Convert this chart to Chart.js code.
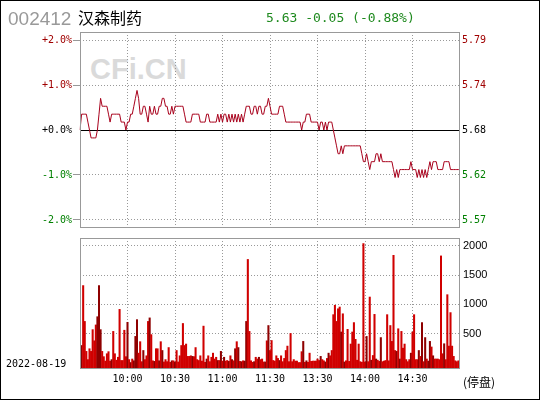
<!DOCTYPE html>
<html>
<head>
<meta charset="utf-8">
<script src="https://cdn.jsdelivr.net/npm/chart.js@4.4.0/dist/chart.umd.min.js"></script>
<style>
    html, body { margin: 0; padding: 0; background: #fff; }
    #wrap { position: relative; width: 540px; height: 400px; overflow: hidden; background: #fff; }
    #wrap canvas { position: absolute; left: 0; top: 0; }
    .txt { position: absolute; white-space: nowrap; line-height: 1; }
    #mark { left: 90px; top: 53px; font: bold 29px "Liberation Sans", Arial, sans-serif; color: #dadada; }
    #code { left: 8px; top: 8px; font: 19px "Liberation Sans", Arial, sans-serif; color: #999; }
    #name { left: 78px; top: 5px; font: 16px "Noto Sans CJK SC", sans-serif; color: #000; }
    #quote { left: 266px; top: 10px; font: 13px "DejaVu Sans Mono", monospace; color: #1f8a1f; }
    #date { left: 6px; top: 358px; font: 10px "DejaVu Sans Mono", monospace; color: #000; }
    #halt { left: 463px; top: 373px; font: 12px "Noto Sans CJK SC", sans-serif; color: #000; }
    #frame { position: absolute; left: 0; top: 0; width: 540px; height: 400px; box-sizing: border-box; border: 1px solid #000; pointer-events: none; }
</style>
</head>
<body>
<div id="wrap">
    <div class="txt" id="mark">CFi.CN</div>
    <canvas id="priceChart" width="540" height="400"></canvas>
    <canvas id="volChart" width="540" height="400"></canvas>
    <div class="txt" id="code">002412</div>
    <div class="txt" id="name">汉森制药</div>
    <div class="txt" id="quote">5.63 -0.05 (-0.88%)</div>
    <div class="txt" id="date">2022-08-19</div>
    <div class="txt" id="halt">(停盘)</div>
    <div id="frame"></div>
</div>
<script>
//! data
const prevClose = 5.68;
const pctLevels = [-2, -1, 0, 1, 2];
const pctLabels = ['-2.0%', '-1.0%', '+0.0%', '+1.0%', '+2.0%'];
const priceLabels = ['5.57', '5.62', '5.68', '5.74', '5.79'];
const volTicks = [500, 1000, 1500, 2000];
const volLabels = ['500', '1000', '1500', '2000'];
const timeTicks = ['10:00', '10:30', '11:00', '11:30', '13:30', '14:00', '14:30'];

const prices = [
    5.68, 5.70, 5.70, 5.70, 5.70, 5.69, 5.68, 5.67, 5.67, 5.67, 5.67, 5.68, 5.70, 5.72, 5.71, 5.71, 5.71, 5.71, 5.70, 5.69,
    5.70, 5.70, 5.70, 5.70, 5.70, 5.70, 5.69, 5.69, 5.69, 5.68, 5.69, 5.69, 5.70, 5.70, 5.71, 5.72, 5.73, 5.72, 5.70, 5.70,
    5.71, 5.71, 5.70, 5.69, 5.71, 5.70, 5.70, 5.71, 5.70, 5.70, 5.71, 5.71, 5.72, 5.72, 5.71, 5.71, 5.70, 5.70, 5.71, 5.70,
    5.71, 5.71, 5.71, 5.71, 5.71, 5.71, 5.70, 5.69, 5.69, 5.69, 5.69, 5.70, 5.70, 5.70, 5.70, 5.70, 5.69, 5.69, 5.69, 5.69,
    5.70, 5.70, 5.69, 5.69, 5.69, 5.69, 5.69, 5.70, 5.69, 5.70, 5.69, 5.70, 5.70, 5.69, 5.70, 5.69, 5.70, 5.69, 5.70, 5.69,
    5.70, 5.69, 5.70, 5.69, 5.70, 5.71, 5.71, 5.71, 5.70, 5.70, 5.71, 5.71, 5.70, 5.71, 5.71, 5.70, 5.70, 5.71, 5.71, 5.72,
    5.71, 5.70, 5.70, 5.70, 5.70, 5.70, 5.71, 5.71, 5.71, 5.70, 5.69, 5.69, 5.69, 5.69, 5.69, 5.69, 5.69, 5.69, 5.69, 5.69,
    5.68, 5.69, 5.69, 5.70, 5.70, 5.70, 5.69, 5.69, 5.69, 5.69, 5.69, 5.68, 5.69, 5.69, 5.68, 5.69, 5.68, 5.69, 5.69, 5.69,
    5.68, 5.67, 5.66, 5.65, 5.65, 5.66, 5.65, 5.66, 5.66, 5.66, 5.66, 5.66, 5.66, 5.66, 5.66, 5.66, 5.66, 5.66, 5.65, 5.64,
    5.64, 5.65, 5.64, 5.63, 5.64, 5.64, 5.64, 5.65, 5.65, 5.64, 5.65, 5.64, 5.64, 5.64, 5.64, 5.64, 5.64, 5.64, 5.63, 5.62,
    5.63, 5.62, 5.63, 5.63, 5.63, 5.63, 5.63, 5.63, 5.63, 5.64, 5.63, 5.63, 5.63, 5.62, 5.63, 5.62, 5.63, 5.62, 5.63, 5.62,
    5.63, 5.64, 5.63, 5.64, 5.64, 5.64, 5.63, 5.63, 5.63, 5.63, 5.64, 5.64, 5.64, 5.64, 5.63, 5.63, 5.63, 5.63, 5.63, 5.63,
    5.63
];

const volumes = [
    40, 300, 1320, 710, 200, 60, 245, 200, 570, 380, 650, 790, 1320, 570, 200, 110, 35, 160, 195, 35,
    60, 540, 160, 50, 100, 915, 45, 45, 560, 110, 695, 60, 10, 70, 40, 455, 740, 170, 365, 25,
    215, 60, 125, 710, 770, 485, 40, 30, 245, 245, 40, 365, 215, 20, 60, 25, 265, 15, 40, 40,
    20, 215, 20, 125, 300, 675, 300, 325, 115, 115, 125, 115, 110, 265, 60, 45, 125, 35, 630, 15,
    70, 125, 25, 100, 170, 70, 100, 45, 45, 200, 35, 100, 35, 45, 30, 125, 60, 40, 245, 365,
    265, 30, 25, 40, 35, 710, 1765, 540, 40, 15, 25, 100, 70, 100, 60, 70, 20, 20, 380, 640,
    215, 385, 45, 35, 125, 80, 45, 125, 25, 80, 215, 290, 25, 505, 25, 60, 35, 35, 10, 10,
    195, 370, 15, 40, 15, 170, 30, 35, 35, 35, 70, 45, 115, 60, 40, 20, 80, 170, 125, 215,
    825, 985, 710, 925, 955, 530, 840, 20, 40, 575, 30, 325, 530, 690, 405, 50, 325, 25, 15, 2035,
    20, 455, 25, 1125, 50, 130, 830, 70, 50, 30, 435, 25, 35, 45, 825, 40, 640, 370, 1835, 215,
    200, 585, 70, 540, 255, 325, 60, 25, 60, 170, 530, 825, 60, 60, 215, 115, 690, 25, 435, 70,
    35, 370, 275, 125, 70, 70, 70, 60, 1825, 160, 330, 60, 1165, 290, 860, 290, 115, 40, 25, 40,
    330
];

//! minute labels 9:30-11:30, 13:01-15:00
const times = [];
for (let i = 0; i <= 240; i++) {
    const m = i <= 120 ? 9 * 60 + 30 + i : 13 * 60 + (i - 120);
    times.push(Math.floor(m / 60) + ':' + String(m % 60).padStart(2, '0'));
}

const span = 0.0218;
const levelColors = ['#008000', '#008000', '#000000', '#a00000', '#a00000'];
const volColors = prices.map((p, i) => (i > 0 && p > prices[i - 1]) ? '#8e0000' : '#d00000');

const gridColorX = (c) => timeTicks.includes(times[c.index]) ? '#999' : 'rgba(0,0,0,0)';
const fixWidth = (s) => { s.width = 80; };
const monoFont = { family: '"DejaVu Sans Mono", monospace', size: 10 };

//! plugins
const frame = {
    id: 'frame',
    afterDraw(chart) {
        const { ctx, chartArea: a } = chart;
        ctx.save();
        ctx.strokeStyle = '#999';
        ctx.lineWidth = 1;
        ctx.strokeRect(a.left + 0.5, a.top + 0.5, a.width - 1, a.height - 1);
        ctx.restore();
    }
};

const zeroLine = {
    id: 'zeroLine',
    beforeDatasetsDraw(chart) {
        const { ctx, chartArea: a, scales } = chart;
        const py = Math.round(scales.y.getPixelForValue(prevClose)) + 0.5;
        ctx.save();
        ctx.strokeStyle = '#000';
        ctx.lineWidth = 1;
        ctx.beginPath();
        ctx.moveTo(a.left, py);
        ctx.lineTo(a.right, py);
        ctx.stroke();
        ctx.restore();
    }
};

//! price chart
new Chart(document.getElementById('priceChart'), {
    type: 'line',
    data: {
        labels: times,
        datasets: [{
            data: prices,
            borderColor: '#a8001c',
            borderWidth: 1,
            pointRadius: 0,
            tension: 0,
            fill: false,
            yAxisID: 'y',
        }]
    },
    options: {
        responsive: false,
        animation: false,
        events: [],
        layout: { padding: { top: 32, bottom: 172, left: 0, right: 0 } },
        plugins: { legend: { display: false }, tooltip: { enabled: false } },
        scales: {
            x: {
                type: 'category',
                offset: false,
                grid: { color: gridColorX, drawTicks: false, offset: false },
                border: { display: false, dash: [1, 2] },
                ticks: { display: false, autoSkip: false, maxRotation: 0 },
                afterFit: (s) => { s.height = 0; },
            },
            y: {
                position: 'left',
                min: prevClose * (1 - span),
                max: prevClose * (1 + span),
                afterBuildTicks: (s) => { s.ticks = pctLevels.map(p => ({ value: prevClose * (1 + p / 100) })); },
                afterFit: fixWidth,
                grid: { color: (c) => c.index === 2 ? 'rgba(0,0,0,0)' : '#999', tickLength: 7 },
                border: { display: false, dash: [1, 2] },
                ticks: {
                    padding: 1,
                    font: monoFont,
                    color: (c) => levelColors[c.index],
                    callback: (v, i) => pctLabels[i],
                },
            },
            y2: {
                position: 'right',
                min: prevClose * (1 - span),
                max: prevClose * (1 + span),
                afterBuildTicks: (s) => { s.ticks = pctLevels.map(p => ({ value: prevClose * (1 + p / 100) })); },
                afterFit: fixWidth,
                grid: { display: false, drawTicks: false },
                border: { display: false },
                ticks: {
                    padding: 2,
                    font: monoFont,
                    color: (c) => levelColors[c.index],
                    callback: (v, i) => priceLabels[i],
                },
            },
        }
    },
    plugins: [zeroLine, frame]
});

//! volume chart
new Chart(document.getElementById('volChart'), {
    type: 'bar',
    data: {
        labels: times,
        datasets: [{
            data: volumes,
            backgroundColor: volColors,
            barThickness: 1.4,
            borderWidth: 0,
            base: -100,
            yAxisID: 'y',
        }]
    },
    options: {
        responsive: false,
        animation: false,
        events: [],
        layout: { padding: { top: 238, bottom: 0, left: 0, right: 0 } },
        plugins: { legend: { display: false }, tooltip: { enabled: false } },
        scales: {
            x: {
                type: 'category',
                offset: false,
                grid: { color: gridColorX, drawTicks: false, offset: false },
                border: { display: false, dash: [1, 2] },
                ticks: {
                    autoSkip: false,
                    maxRotation: 0,
                    minRotation: 0,
                    padding: 4,
                    font: monoFont,
                    color: '#000',
                    callback: (v, i) => timeTicks.includes(times[i]) ? times[i] : '',
                },
                afterFit: (s) => { s.height = 31; },
            },
            y: {
                position: 'left',
                min: -100,
                max: 2130,
                afterBuildTicks: (s) => { s.ticks = volTicks.map(v => ({ value: v })); },
                afterFit: fixWidth,
                grid: { color: '#999', drawTicks: false },
                border: { display: false, dash: [1, 2] },
                ticks: { display: false },
            },
            y2: {
                position: 'right',
                min: -100,
                max: 2130,
                afterBuildTicks: (s) => { s.ticks = volTicks.map(v => ({ value: v })); },
                afterFit: fixWidth,
                grid: { display: false, drawTicks: false },
                border: { display: false },
                ticks: {
                    padding: 3,
                    font: { family: '"Liberation Sans", Arial, sans-serif', size: 11 },
                    color: '#000',
                    callback: (v, i) => volLabels[i],
                },
            },
        }
    },
    plugins: [frame]
});
</script>
</body>
</html>
